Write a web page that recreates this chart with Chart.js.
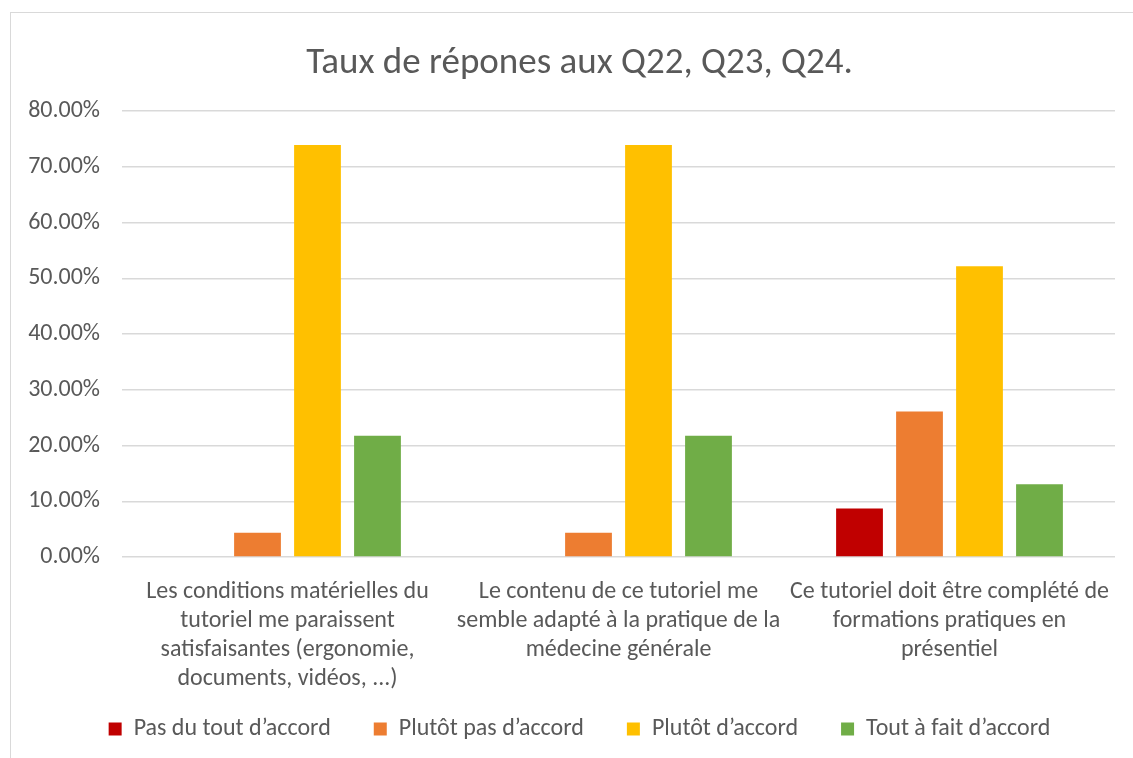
<!DOCTYPE html>
<html>
<head>
<meta charset="utf-8">
<script src="https://cdn.jsdelivr.net/npm/chart.js@4"></script>
<style>
  html, body { margin: 0; padding: 0; background: #ffffff; overflow: hidden; }
  #frame { position: absolute; left: 10px; top: 12px; width: 1200px; height: 800px; border: 1px solid #d9d9d9; box-sizing: border-box; }
  #wrap { position: absolute; left: 0; top: 0; width: 1133px; height: 758px; }
</style>
</head>
<body>
<div id="frame"></div>
<div id="wrap"><canvas id="c" width="1133" height="758"></canvas></div>
<script>
const titleText = 'Taux de répones aux Q22, Q23, Q24.';
const categories = [
  ['Les conditions matérielles du', 'tutoriel me paraissent', 'satisfaisantes (ergonomie,', 'documents, vidéos, ...)'],
  ['Le contenu de ce tutoriel me', 'semble adapté à la pratique de la', 'médecine générale'],
  ['Ce tutoriel doit être complété de', 'formations pratiques en', 'présentiel']
];
const seriesNames = ['Pas du tout d’accord', 'Plutôt pas d’accord', 'Plutôt d’accord', 'Tout à fait d’accord'];
const seriesColors = ['#C00000', '#ED7D31', '#FFC000', '#70AD47'];
const pasDuTout = [0, 0, 8.70];
const plutotPas = [4.35, 4.35, 26.09];
const plutot = [73.91, 73.91, 52.17];
const toutAFait = [21.74, 21.74, 13.04];
const yTicks = [0, 10, 20, 30, 40, 50, 60, 70, 80];

const FONT = "Carlito, 'Open Sans', sans-serif";
const values = [pasDuTout, plutotPas, plutot, toutAFait];
const LEFT_PAD = 44;

new Chart(document.getElementById('c'), {
  type: 'bar',
  data: {
    labels: categories,
    datasets: values.map((v, i) => ({
      label: seriesNames[i],
      data: v,
      backgroundColor: seriesColors[i],
      borderWidth: 0,
      categoryPercentage: 0.725,
      barPercentage: 0.78
    }))
  },
  options: {
    responsive: false,
    animation: false,
    layout: { padding: { left: LEFT_PAD, right: 18, top: 0, bottom: 7 } },
    plugins: {
      title: {
        display: true,
        text: titleText,
        color: '#595959',
        font: { family: FONT, size: 37, weight: 'normal', lineHeight: 1.2 },
        padding: { top: 42, bottom: 24.6 }
      },
      legend: {
        position: 'bottom',
        labels: {
          color: '#595959',
          font: { family: FONT, size: 24 },
          boxWidth: 13,
          boxHeight: 13,
          padding: 43
        }
      },
      tooltip: { enabled: false }
    },
    scales: {
      x: {
        grid: { display: false },
        border: { display: false },
        ticks: {
          color: '#595959',
          font: { family: FONT, size: 24, lineHeight: 1.2 },
          maxRotation: 0,
          autoSkip: false,
          padding: 13
        },
        afterFit: (s) => {
          s.height = 117;
          s._computeLabelArea = () => undefined;
        }
      },
      y: {
        min: 0,
        max: 80,
        afterBuildTicks: (s) => { s.ticks = yTicks.map(v => ({ value: v })); },
        grid: { color: '#d9d9d9', lineWidth: 1.5, drawTicks: false },
        border: { display: false },
        ticks: {
          color: '#595959',
          font: { family: FONT, size: 24 },
          padding: 22,
          callback: (v) => v.toFixed(2) + '%'
        },
        afterFit: (s) => {
          s.width = 122 - LEFT_PAD;
          s._computeLabelArea = () => undefined;
        }
      }
    }
  }
});
</script>
</body>
</html>
